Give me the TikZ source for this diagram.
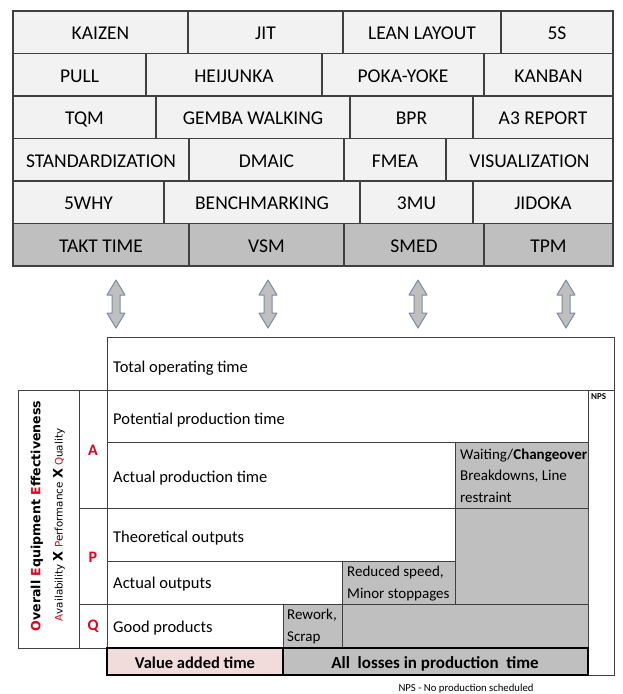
\documentclass[tikz,border=0pt]{standalone}
\usepackage{fontspec}
\setmainfont{Carlito}
\newfontfamily\oeefont{DejaVu Sans}
\usepackage{xcolor}
\usepackage{tikz}

\definecolor{cellgray}{HTML}{F2F2F2}
\definecolor{rowgray}{HTML}{BFBFBF}
\definecolor{oeered}{HTML}{E3001B}
\definecolor{valuepink}{HTML}{F2DCDB}
\definecolor{linegray}{HTML}{404040}
\definecolor{arrowblue}{HTML}{7A8BA3}

\begin{document}
\begin{tikzpicture}[x=1pt,y=-1pt,
		light/.style={draw=linegray, line width=1.2pt, fill=cellgray},
		dark/.style={draw=linegray, line width=1.2pt, fill=rowgray},
		tool/.style={anchor=base, inner sep=0pt, font=\fontsize{19.5}{22}\selectfont},
		thin/.style={draw=linegray, line width=0.9pt},
		heavy/.style={draw=black, line width=2.2pt},
		rowtext/.style={anchor=base west, inner sep=0pt, font=\fontsize{16.5}{19}\selectfont},
		losstext/.style={anchor=base west, align=left, inner sep=0pt, font=\fontsize{15}{21.5}\selectfont},
		letter/.style={inner sep=0pt, text=oeered, font=\fontsize{16}{18}\selectfont\bfseries},
		updown/.style={fill=rowgray, draw=arrowblue, line width=1pt, line join=round}]
		\useasboundingbox (0,0) rectangle (623,694);
		
		\foreach \x/\X/\y/\s/\t [count=\i] in {
			13/188/11/light/KAIZEN,
			188/343/11/light/JIT,
			343/501/11/light/LEAN LAYOUT,
			501/613/11/light/5S,
			13/146/53.5/light/PULL,
			146/322/53.5/light/HEIJUNKA,
			322/484/53.5/light/POKA-YOKE,
			484/613/53.5/light/KANBAN,
			13/156/96/light/TQM,
			156/350/96/light/GEMBA WALKING,
			350/473/96/light/BPR,
			473/613/96/light/A3 REPORT,
			13/189/138.5/light/STANDARDIZATION,
			189/344/138.5/light/DMAIC,
			344/446/138.5/light/FMEA,
			446/613/138.5/light/VISUALIZATION,
			13/164/181/light/5WHY,
			164/360/181/light/BENCHMARKING,
			360/473/181/light/3MU,
			473/613/181/light/JIDOKA,
			13/189/223.5/dark/TAKT TIME,
			189/344/223.5/dark/VSM,
			344/484/223.5/dark/SMED,
			484/613/223.5/dark/TPM
		}{
			\draw[\s] (\x,\y) rectangle (\X,\y+42.5);
			\node[tool] (tool\i) at ({(\x+\X)/2},\y+28.5) {\t};
		}
		
		\foreach \ax in {116,268,418,566}
			\draw[updown] (\ax,280) -- ++(9,15) -- ++(-5,0) -- ++(0,18) -- ++(5,0) -- ++(-9,15)
				-- ++(-9,-15) -- ++(5,0) -- ++(0,-18) -- ++(-5,0) -- cycle;
		
		\coordinate (top) at (107,337);
		\coordinate (nps) at (614,390);
		
		\draw[thin] (top) rectangle (614,390);
		\draw[thin] (588,390) rectangle (614,675);
		
		\fill[rowgray] (283,648) -- (283,604) -- (342,604) -- (342,561) -- (455,561)
			-- (455,442) -- (588,442) -- (588,648) -- cycle;
		\draw[gray!60, line width=0.6pt] (455,604) -- (588,604);
		
		\draw[thin] (107,390) rectangle (588,442);
		\draw[thin] (107,442) rectangle (455,508);
		\draw[thin] (455,442) rectangle (588,508);
		\draw[thin] (107,508) rectangle (455,561);
		\draw[thin] (107,561) rectangle (342,604);
		\draw[thin] (342,561) rectangle (455,604);
		\draw[thin] (107,604) rectangle (283,648);
		\draw[thin] (283,604) rectangle (342,648);
		\draw[thin] (342,604) rectangle (588,648);
		
		\draw[thin] (18,390) rectangle (79,648);
		\draw[thin] (79,390) rectangle (107,648);
		\draw[thin] (79,508) -- (107,508);
		\draw[thin] (79,604) -- (107,604);
		
		\draw[heavy, fill=valuepink] (107,648) rectangle (283,675);
		\draw[heavy, fill=rowgray] (283,648) rectangle (588,675);
		
		\node[rowtext] (total) at (113,372) {Total operating time};
		\node[rowtext] (potential) at (113,424) {Potential production time};
		\node[rowtext] (actualtime) at (113,482) {Actual production time};
		\node[rowtext] (theory) at (113,542) {Theoretical outputs};
		\node[rowtext] (actualout) at (113,588) {Actual outputs};
		\node[rowtext] (good) at (113,632) {Good products};
		
		\node[losstext] (waiting) at (460,502) {Waiting/\textbf{Changeover}\\Breakdowns, Line\\restraint};
		\node[losstext] (reduced) at (347,598) {Reduced speed,\\Minor stoppages};
		\node[losstext] (rework) at (287,641) {Rework,\\Scrap};
		
		\node[anchor=north west, inner sep=0pt, font=\fontsize{9}{10}\selectfont\bfseries] (npslabel) at (591,393) {NPS};
		
		\node[letter] (avail) at (93,450) {A};
		\node[letter] (perf) at (93,557) {P};
		\node[letter] (qual) at (93,626) {Q};
		
		\node[rotate=90, inner sep=0pt, font=\oeefont\fontsize{12.6}{14}\selectfont\bfseries] (oee) at (37,516)
			{\textcolor{oeered}{O}verall \textcolor{oeered}{E}quipment \textcolor{oeered}{E}ffectiveness};
		\node[rotate=90, inner sep=0pt, font=\oeefont\fontsize{10.3}{12}\selectfont] (apq) at (59,525)
			{\textcolor{oeered}{A}vailability {\fontsize{13}{14}\selectfont\bfseries X} \textcolor{oeered}{P}erformance {\fontsize{13}{14}\selectfont\bfseries X} \textcolor{oeered}{Q}uality};
		
		\node[anchor=base, inner sep=0pt, font=\fontsize{16.5}{19}\selectfont\bfseries] (value) at (195,668) {Value added time};
		\node[anchor=base, inner sep=0pt, font=\fontsize{17}{19}\selectfont\bfseries] (losses) at (435,668) {All~ losses in production~ time};
		\node[anchor=base, inner sep=0pt, font=\fontsize{10.7}{12}\selectfont] (npsnote) at (466,691) {NPS - No production scheduled};
	\end{tikzpicture}
\end{document}
